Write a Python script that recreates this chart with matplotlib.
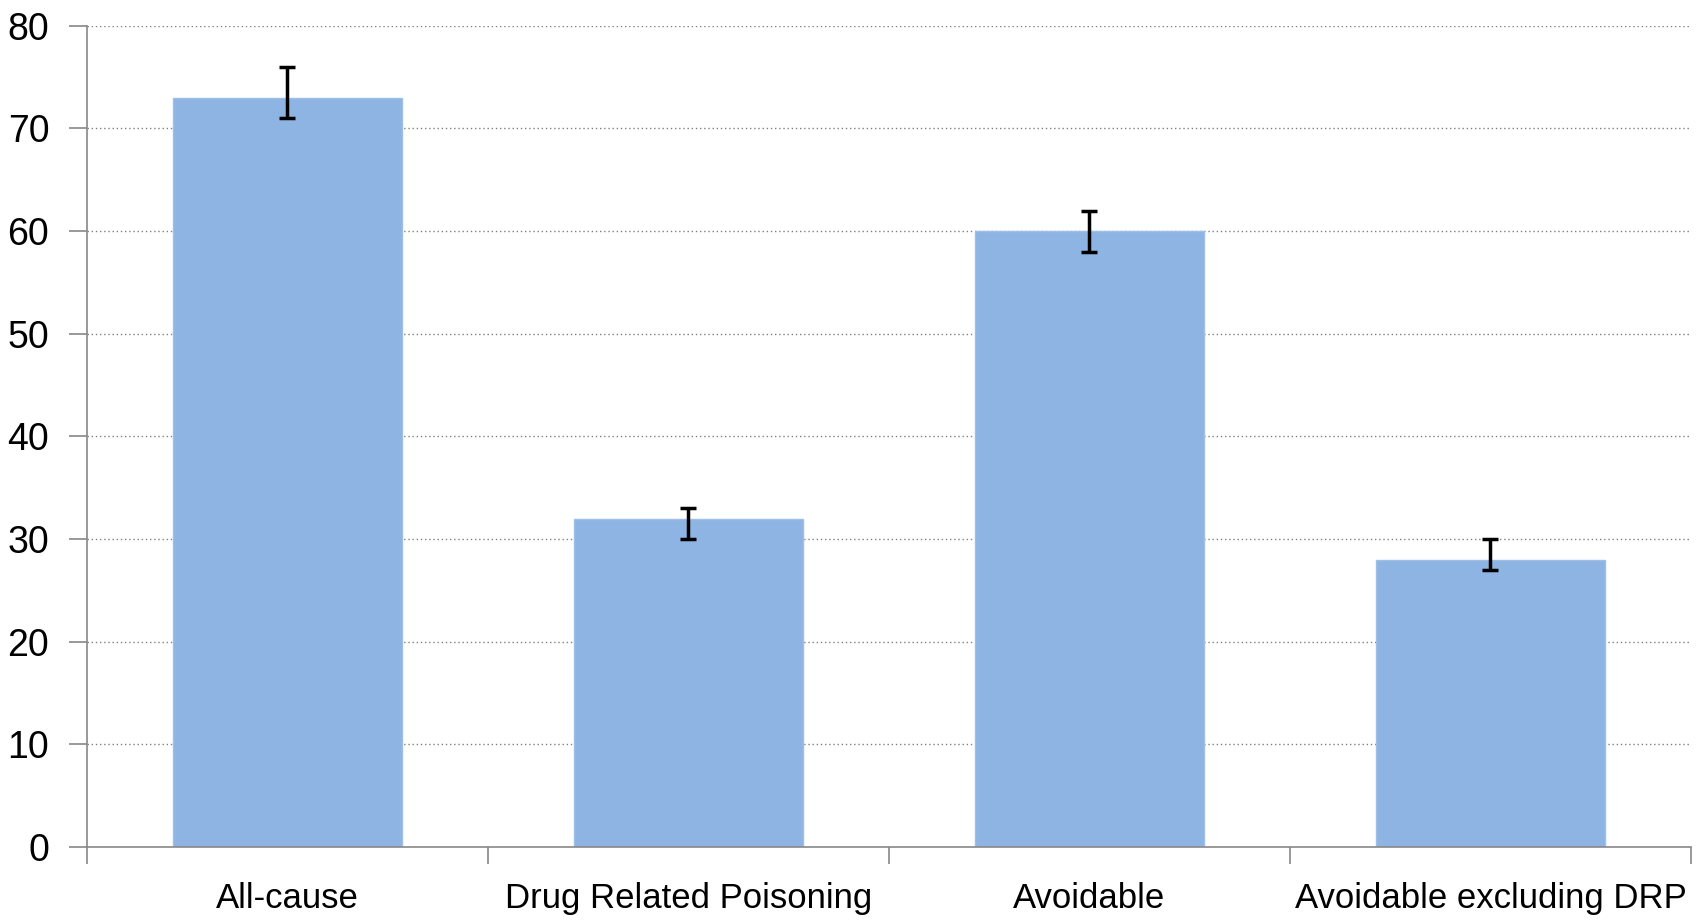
import matplotlib.pyplot as plt
import numpy as np

plt.rcParams['font.family'] = ['Liberation Sans Narrow', 'Liberation Sans', 'DejaVu Sans']

# Data
categories = ["All-cause", "Drug Related Poisoning", "Avoidable", "Avoidable excluding DRP"]
values = [73, 32, 60, 28]
err_low = [2, 2, 2, 1]
err_high = [3, 1, 2, 2]

fig = plt.figure(figsize=(17.02, 9.23), dpi=100)
ax = fig.add_axes([0.051, 0.0823, 0.9425, 0.8897])

x = np.arange(len(categories))
ax.bar(x, values, width=0.571, color="#8eb4e3", edgecolor="#9dbfe8", linewidth=1, zorder=2)
ax.errorbar(x, values, yerr=[err_low, err_high], fmt="none", ecolor="black",
            elinewidth=2.5, capsize=6, capthick=2.5, zorder=3)

ax.set_xlim(-0.5, len(categories) - 0.5)
ax.set_ylim(0, 80)
ax.set_yticks(range(0, 81, 10))
ax.yaxis.grid(True, linestyle=(0, (1, 2)), color="#808080", linewidth=1, zorder=0)

# category boundaries get the tick marks, centres get the labels
ax.set_xticks(np.arange(-0.5, len(categories), 1.0))
ax.set_xticklabels([])
ax.set_xticks(x, minor=True)
ax.set_xticklabels(categories, minor=True)
ax.tick_params(axis="x", which="major", length=12, width=1.2, color="#888888", direction="out")
ax.tick_params(axis="x", which="minor", length=0, pad=25, labelsize=25)
ax.tick_params(axis="y", length=13, width=1.2, color="#888888", pad=14, labelsize=27)

for s in ["top", "right"]:
    ax.spines[s].set_visible(False)
for s in ["left", "bottom"]:
    ax.spines[s].set_color("#888888")
    ax.spines[s].set_linewidth(1.2)

fig.savefig("out.png", dpi=100)
